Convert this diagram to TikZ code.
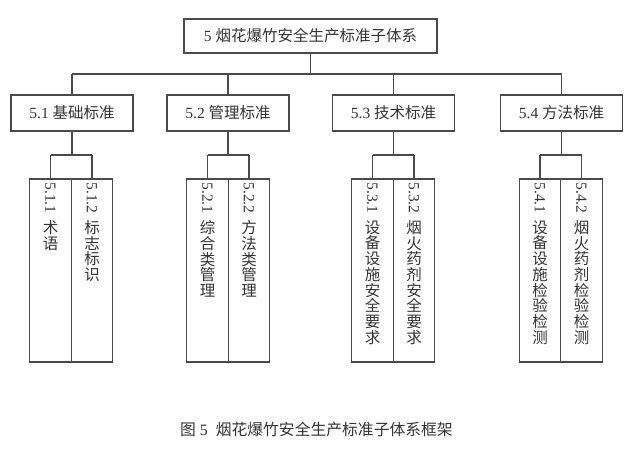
\documentclass[tikz,border=0pt]{standalone}
\usepackage{fontspec}
\setmainfont{Liberation Serif}
\newfontfamily\cjk{Noto Sans CJK SC}
\definecolor{linec}{HTML}{4A4A4A}
\definecolor{txtc}{HTML}{333333}
\begin{document}
\begin{tikzpicture}[x=1pt,y=-1pt,
  conn/.style={draw=linec, line width=1.3pt},
  fnt/.style={font=\fontsize{15.5}{15.7}\selectfont, text=txtc},
  cfnt/.style={font=\cjk\fontsize{15.5}{15.7}\selectfont, text=txtc},
  topbox/.style={draw=linec, line width=1.3pt, fnt, minimum width=253pt, minimum height=34pt, inner sep=0pt},
  midbox/.style={draw=linec, line width=1.3pt, fnt, minimum width=122pt, minimum height=36pt, inner sep=0pt},
  leafbox/.style={draw=linec, line width=1.3pt, minimum width=41.5pt, minimum height=183pt, inner sep=0pt},
  numtxt/.style={fnt, rotate=-90, anchor=west, inner sep=0pt},
  chtxt/.style={cfnt, anchor=north, align=center, inner sep=0pt}
]
\useasboundingbox (0,0) rectangle (640,463);

\node[topbox] (top) at (310.5,36) {5 {\cjk 烟花爆竹安全生产标准子体系}};

\node[midbox] (m1) at (72,113) {5.1 {\cjk 基础标准}};
\node[midbox] (m2) at (228,113) {5.2 {\cjk 管理标准}};
\node[midbox] (m3) at (393.5,113) {5.3 {\cjk 技术标准}};
\node[midbox] (m4) at (561.5,113) {5.4 {\cjk 方法标准}};

\coordinate (bus) at (0,74);
\coordinate (sub) at (0,155);

\draw[conn] (top.south) -- (top.south |- bus);
\draw[conn] (m1.north |- bus) -- (m4.north |- bus);
\foreach \m in {m1,m2,m3,m4}{
  \draw[conn] (\m.north |- bus) -- (\m.north);
}

% leaves
\foreach \n/\x in {a1/50.5,b1/92,a2/207.5,b2/249,a3/372.5,b3/414,a4/540,b4/581.5}{
  \node[leafbox] (\n) at (\x,270.5) {};
}

\foreach \m/\a/\b in {m1/a1/b1,m2/a2/b2,m3/a3/b3,m4/a4/b4}{
  \draw[conn] (\m.south) -- (\m.south |- sub);
  \draw[conn] (\a.north |- sub) -- (\b.north |- sub);
  \draw[conn] (\a.north |- sub) -- (\a.north);
  \draw[conn] (\b.north |- sub) -- (\b.north);
}

% leaf texts
\node[numtxt] (na1) at ([yshift=-4pt]a1.north) {5.1.1};
\node[chtxt] (ca1) at ([yshift=-42pt]a1.north) {术\\语};
\node[numtxt] (nb1) at ([yshift=-4pt]b1.north) {5.1.2};
\node[chtxt] (cb1) at ([yshift=-42pt]b1.north) {标\\志\\标\\识};
\node[numtxt] (na2) at ([yshift=-4pt]a2.north) {5.2.1};
\node[chtxt] (ca2) at ([yshift=-42pt]a2.north) {综\\合\\类\\管\\理};
\node[numtxt] (nb2) at ([yshift=-4pt]b2.north) {5.2.2};
\node[chtxt] (cb2) at ([yshift=-42pt]b2.north) {方\\法\\类\\管\\理};
\node[numtxt] (na3) at ([yshift=-4pt]a3.north) {5.3.1};
\node[chtxt] (ca3) at ([yshift=-42pt]a3.north) {设\\备\\设\\施\\安\\全\\要\\求};
\node[numtxt] (nb3) at ([yshift=-4pt]b3.north) {5.3.2};
\node[chtxt] (cb3) at ([yshift=-42pt]b3.north) {烟\\火\\药\\剂\\安\\全\\要\\求};
\node[numtxt] (na4) at ([yshift=-4pt]a4.north) {5.4.1};
\node[chtxt] (ca4) at ([yshift=-42pt]a4.north) {设\\备\\设\\施\\检\\验\\检\\测};
\node[numtxt] (nb4) at ([yshift=-4pt]b4.north) {5.4.2};
\node[chtxt] (cb4) at ([yshift=-42pt]b4.north) {烟\\火\\药\\剂\\检\\验\\检\\测};

\node[fnt, font=\fontsize{15.8}{18}\selectfont, inner sep=0pt] (cap) at (316.5,429) {{\cjk 图}~5~ {\cjk 烟花爆竹安全生产标准子体系框架}};
\end{tikzpicture}
\end{document}
